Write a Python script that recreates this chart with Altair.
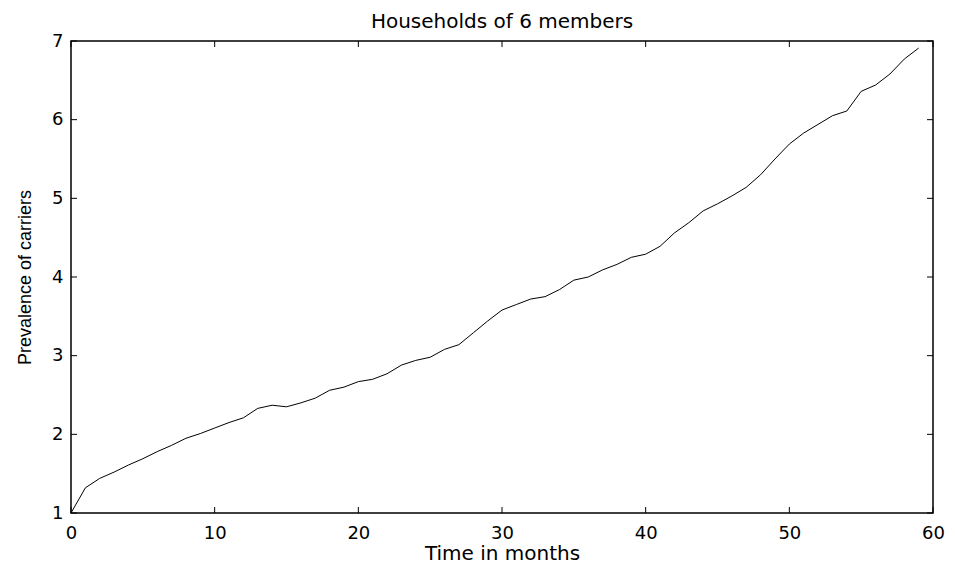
import altair as alt
import pandas as pd

months = list(range(60))
prevalence = [1.00, 1.32, 1.44, 1.52, 1.61, 1.69, 1.78, 1.86, 1.95, 2.01,
              2.08, 2.15, 2.21, 2.33, 2.37, 2.35, 2.40, 2.46, 2.56, 2.60,
              2.67, 2.70, 2.77, 2.88, 2.94, 2.98, 3.08, 3.14, 3.29, 3.44,
              3.58, 3.65, 3.72, 3.75, 3.84, 3.96, 4.00, 4.09, 4.16, 4.25,
              4.29, 4.39, 4.56, 4.69, 4.84, 4.93, 5.03, 5.14, 5.30, 5.50,
              5.69, 5.83, 5.94, 6.05, 6.11, 6.36, 6.44, 6.58, 6.77, 6.91]
x_ticks = [0, 10, 20, 30, 40, 50, 60]
y_ticks = [1, 2, 3, 4, 5, 6, 7]

W, H = 862, 472
TL = 6

df = pd.DataFrame({"month": months, "prev": prevalence})
xt = pd.DataFrame({"xt": x_ticks})
yt = pd.DataFrame({"yt": y_ticks})

xscale = alt.Scale(domain=[0, 60], nice=False, zero=False)
yscale = alt.Scale(domain=[1, 7], nice=False, zero=False)

xaxis = alt.Axis(values=x_ticks, title="Time in months", ticks=False, domain=False,
                 grid=False, labelPadding=11, labelFont="DejaVu Sans", labelFontSize=18,
                 labelColor="black", labelFlush=False, labelOverlap=False,
                 titleFont="DejaVu Sans", titleFontSize=20,
                 titleFontWeight="normal", titleColor="black", titlePadding=1)
yaxis = alt.Axis(values=y_ticks, title="Prevalence of carriers", ticks=False, domain=False,
                 grid=False, labelPadding=8, labelFont="DejaVu Sans", labelFontSize=18,
                 labelColor="black", labelFlush=False, labelOverlap=False,
                 titleFont="Liberation Sans", titleFontSize=18,
                 titleFontWeight="normal", titleColor="black",
                 titleX=-41, titleBaseline="alphabetic")

line = alt.Chart(df).mark_line(color="black", strokeWidth=1).encode(
    x=alt.X("month:Q", scale=xscale, axis=xaxis, title="Time in months"),
    y=alt.Y("prev:Q", scale=yscale, axis=yaxis, title="Prevalence of carriers"),
)

bottom = alt.Chart(xt).mark_rule(color="black", strokeWidth=1).encode(
    x=alt.X("xt:Q", scale=xscale, axis=xaxis, title="Time in months"),
    y=alt.value(H), y2=alt.value(H - TL))
top = alt.Chart(xt).mark_rule(color="black", strokeWidth=1).encode(
    x=alt.X("xt:Q", scale=xscale, axis=xaxis, title="Time in months"),
    y=alt.value(0), y2=alt.value(TL))
left = alt.Chart(yt).mark_rule(color="black", strokeWidth=1).encode(
    y=alt.Y("yt:Q", scale=yscale, axis=yaxis, title="Prevalence of carriers"),
    x=alt.value(0), x2=alt.value(TL))
right = alt.Chart(yt).mark_rule(color="black", strokeWidth=1).encode(
    y=alt.Y("yt:Q", scale=yscale, axis=yaxis, title="Prevalence of carriers"),
    x=alt.value(W), x2=alt.value(W - TL))

chart = alt.layer(line, bottom, top, left, right).properties(
    width=W, height=H,
    title=alt.Title("Households of 6 members", font="DejaVu Sans", fontSize=20,
                    fontWeight="normal", color="black", anchor="middle", offset=0),
    autosize=alt.AutoSizeParams(type="none"),
    padding={"left": 63, "top": 33, "right": 12, "bottom": 50},
).configure(background="white").configure_view(stroke="black", strokeWidth=1.5)

chart.save("out.html", embed_options={"renderer": "svg", "actions": False})
